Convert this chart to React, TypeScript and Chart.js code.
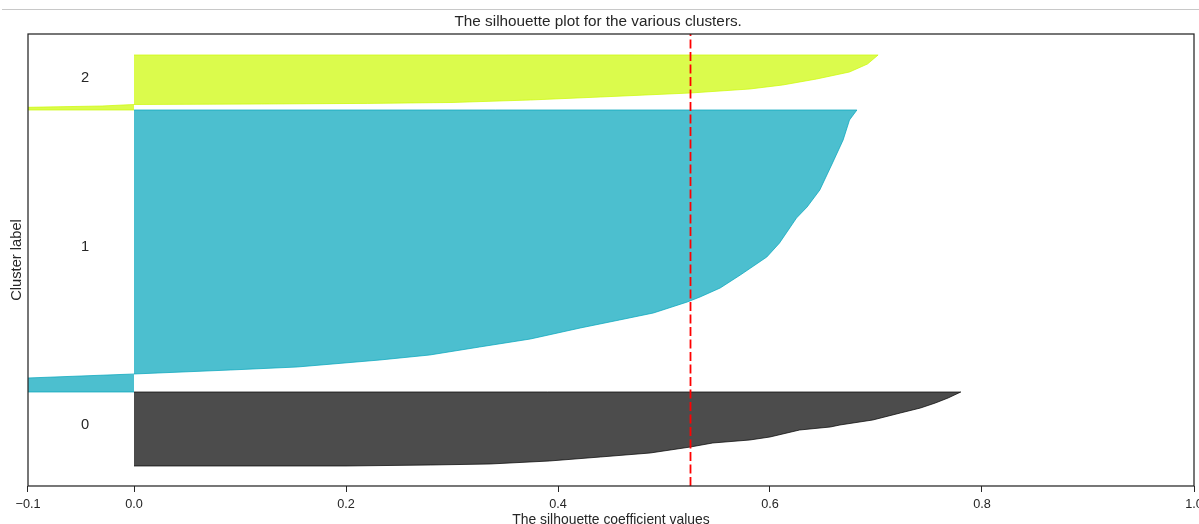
import React, { useEffect, useRef } from "react";
import { Chart, registerables } from "chart.js";

Chart.register(...registerables);

const FONT = "'Liberation Sans', Arial, Helvetica, sans-serif";
const TEXT_COLOR = "#262626";

const titleText = "The silhouette plot for the various clusters.";
const xAxisTitle = "The silhouette coefficient values";
const yAxisTitle = "Cluster label";

const xMin = -0.1;
const xMax = 1.0;
const yMin = 0;
const yMax = 226;
const xTicks = [-0.1, 0.0, 0.2, 0.4, 0.6, 0.8, 1.0];
const xTickLabels = ["\u22120.1", "0.0", "0.2", "0.4", "0.6", "0.8", "1.0"];

const clusterNames = ["0", "1", "2"];
const clusterLabelX = -0.05;
const clusterLabelY = [28.5, 117.5, 201.75];

// cluster 0 (sorted silhouette values, bottom to top)
const c0Y = [10, 10.5, 11, 12.5, 14.5, 16.5, 19.5, 21.5, 23, 24.5, 28, 29.5, 30.5, 33, 36.5, 39, 41.5, 44, 47];
const c0V = [0.2, 0.28, 0.336, 0.392, 0.44, 0.487, 0.525, 0.546, 0.581, 0.6, 0.628, 0.657, 0.666, 0.697, 0.723, 0.742, 0.756, 0.768, 0.78];

// cluster 1
const c1Y = [47, 51, 54, 56, 58, 59.5, 63, 65.5, 69.5, 73.5, 79, 83, 86.5, 92, 94.5, 99, 105.5, 114.5, 121.5, 134, 139.5, 148, 161.5, 173, 183, 188];
const c1V = [-0.16, -0.12, -0.1, 0.0, 0.091, 0.154, 0.232, 0.279, 0.326, 0.374, 0.421, 0.458, 0.49, 0.522, 0.534, 0.553, 0.572, 0.597, 0.609, 0.625, 0.635, 0.647, 0.659, 0.669, 0.675, 0.682];

// cluster 2
const c2Y = [188, 188.75, 189.35, 190, 190.75, 191, 191.3, 191.75, 193, 194.5, 196.5, 198.5, 200.5, 203.5, 207, 211, 215.5];
const c2V = [-0.14, -0.12, -0.1, -0.03, 0.0, 0.12, 0.22, 0.3, 0.374, 0.44, 0.525, 0.581, 0.612, 0.644, 0.675, 0.692, 0.702];

const avgScore = 0.525;

const clusterColors = ["rgba(0,0,0,0.7)", "rgba(0,164,187,0.7)", "rgba(204,249,0,0.7)"];

const overlayPlugin = {
  id: "overlay",
  afterDatasetsDraw(chart: any) {
    const { ctx, chartArea: a, scales } = chart;
    ctx.save();
    ctx.fillStyle = TEXT_COLOR;
    ctx.font = `14.7px ${FONT}`;
    ctx.textAlign = "left";
    ctx.textBaseline = "alphabetic";
    clusterNames.forEach((n, i) => {
      ctx.fillText(n, scales.x.getPixelForValue(clusterLabelX), scales.y.getPixelForValue(clusterLabelY[i]));
    });
    ctx.strokeStyle = TEXT_COLOR;
    ctx.lineWidth = 1.25;
    ctx.strokeRect(a.left, a.top, a.right - a.left, a.bottom - a.top);
    ctx.restore();
  },
};

export default function App() {
  const ref = useRef<HTMLCanvasElement | null>(null);

  useEffect(() => {
    if (!ref.current) return;
    const clusters: [number[], number[]][] = [
      [c0Y, c0V],
      [c1Y, c1V],
      [c2Y, c2V],
    ];
    const datasets: any[] = [
      {
        label: "average",
        data: [
          { x: avgScore, y: yMin },
          { x: avgScore, y: yMax },
        ],
        borderColor: "#ff0000",
        borderWidth: 1.8,
        borderDash: [9, 3.5],
        pointRadius: 0,
        fill: false,
        order: 0,
      },
      ...clusters.map(([ys, vs], i) => ({
        label: "cluster " + clusterNames[i],
        data: [
          { x: 0, y: ys[0] },
          ...ys.map((y, j) => ({ x: vs[j], y })),
          { x: 0, y: ys[ys.length - 1] },
        ],
        borderColor: clusterColors[i],
        backgroundColor: clusterColors[i],
        borderWidth: 1,
        pointRadius: 0,
        tension: 0,
        fill: { value: 0 },
        order: 1,
      })),
    ];

    const chart = new Chart(ref.current, {
      type: "line",
      data: { datasets },
      plugins: [overlayPlugin],
      options: {
        animation: false,
        responsive: false,
        indexAxis: "y",
        layout: { padding: { left: 2.36, right: 36, top: 0, bottom: 17.44 } },
        plugins: {
          legend: { display: false },
          tooltip: { enabled: false },
          title: {
            display: true,
            text: titleText,
            color: TEXT_COLOR,
            font: { family: FONT, size: 15.3, weight: "normal", lineHeight: 1.2 },
            padding: { top: 12.82, bottom: 2.82 },
          },
        },
        scales: {
          x: {
            type: "linear",
            min: xMin,
            max: xMax,
            afterBuildTicks: (scale: any) => {
              scale.ticks = xTicks.map((v) => ({ value: v }));
            },
            ticks: {
              autoSkip: false,
              maxRotation: 0,
              padding: 7.55,
              color: TEXT_COLOR,
              font: { family: FONT, size: 12.7, lineHeight: 0.78 },
              callback: (_v: any, i: number) => xTickLabels[i],
            },
            grid: {
              display: true,
              drawOnChartArea: false,
              drawTicks: true,
              tickLength: 6,
              color: TEXT_COLOR,
              lineWidth: 1,
            },
            border: { display: false },
            title: {
              display: true,
              text: xAxisTitle,
              color: TEXT_COLOR,
              font: { family: FONT, size: 13.9, lineHeight: 0.4 },
              padding: { top: 0, bottom: 0 },
            },
          },
          y: {
            type: "linear",
            min: yMin,
            max: yMax,
            ticks: { display: false },
            grid: { display: false, drawTicks: false },
            border: { display: false },
            title: {
              display: true,
              text: yAxisTitle,
              color: TEXT_COLOR,
              font: { family: FONT, size: 14.7, lineHeight: 1.2 },
              padding: { top: 5.3, bottom: 2.7 },
            },
          },
        },
      } as any,
    });
    return () => chart.destroy();
  }, []);

  return (
    <div
      style={{
        position: "fixed",
        left: 0,
        top: 0,
        width: 1199,
        height: 524,
        overflow: "hidden",
        background: "#ffffff",
      }}
    >
      <canvas ref={ref} width={1230} height={540} style={{ display: "block", width: 1230, height: 540 }} />
      <div
        style={{
          position: "absolute",
          left: 2,
          top: 9,
          width: 1197,
          height: 1,
          background: "#c8c8c8",
        }}
      />
    </div>
  );
}
